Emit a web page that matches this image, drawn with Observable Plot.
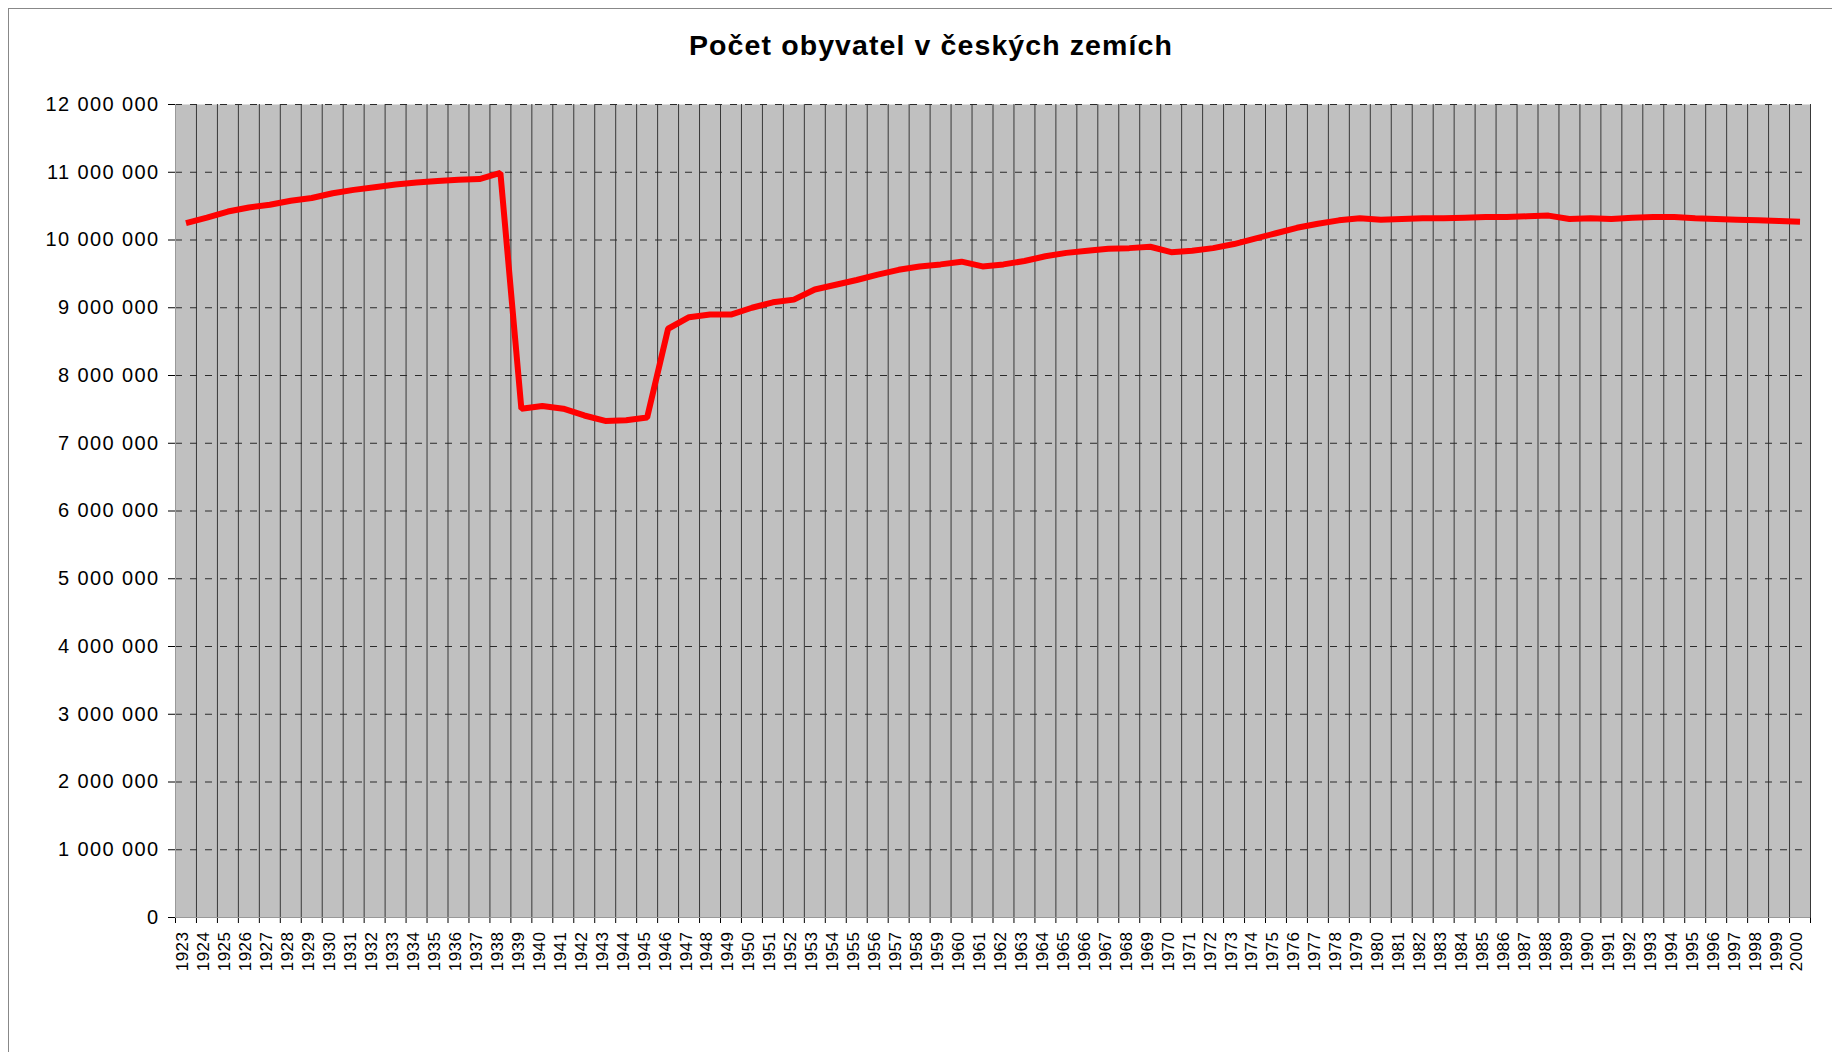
<!DOCTYPE html>
<html><head><meta charset="utf-8">
<script src="https://cdn.jsdelivr.net/npm/d3@7"></script>
<script src="https://cdn.jsdelivr.net/npm/@observablehq/plot@0.6"></script>
<style>
html,body{margin:0;padding:0;background:#fff;}
#wrap{position:relative;width:1832px;height:1052px;overflow:hidden;font-family:"Liberation Sans",Arial,sans-serif;}
#border{position:absolute;left:8px;top:8px;right:-10px;bottom:-10px;border-left:1px solid #888;border-top:1px solid #888;}
#title{position:absolute;left:0;width:1862px;top:29px;text-align:center;font-size:28.5px;font-weight:bold;line-height:32px;letter-spacing:1.1px;color:#000;}
#chart{position:absolute;left:0;top:70px;}
</style></head>
<body><div id="wrap"><div id="border"></div><div id="title">Počet obyvatel v českých zemích</div><div id="chart"></div></div>
<script>
const years = [1923,1924,1925,1926,1927,1928,1929,1930,1931,1932,1933,1934,1935,1936,1937,1938,1939,1940,1941,1942,1943,1944,1945,1946,1947,1948,1949,1950,1951,1952,1953,1954,1955,1956,1957,1958,1959,1960,1961,1962,1963,1964,1965,1966,1967,1968,1969,1970,1971,1972,1973,1974,1975,1976,1977,1978,1979,1980,1981,1982,1983,1984,1985,1986,1987,1988,1989,1990,1991,1992,1993,1994,1995,1996,1997,1998,1999,2000];
const population = [10250000,10330000,10420000,10480000,10520000,10580000,10620000,10690000,10740000,10780000,10820000,10850000,10870000,10890000,10900000,10990000,7510000,7550000,7510000,7410000,7330000,7340000,7380000,8690000,8860000,8900000,8900000,9000000,9080000,9120000,9270000,9340000,9410000,9490000,9560000,9610000,9640000,9680000,9610000,9640000,9690000,9760000,9810000,9840000,9870000,9880000,9900000,9820000,9840000,9880000,9940000,10020000,10100000,10180000,10240000,10290000,10320000,10300000,10310000,10320000,10320000,10330000,10340000,10340000,10350000,10360000,10310000,10320000,10310000,10330000,10340000,10340000,10320000,10310000,10300000,10290000,10280000,10270000];
const yTicks = [0,1000000,2000000,3000000,4000000,5000000,6000000,7000000,8000000,9000000,10000000,11000000,12000000];

const fmt = d => d3.format(",")(d).replace(/,/g, " ");
const data = years.map((year, i) => ({year, pop: population[i]}));
const bounds = years.map(y => y + 0.5);
const x0 = years[0] - 0.5;

const chart = Plot.plot({
  width: 1832, height: 982,
  marginLeft: 175, marginRight: 22, marginTop: 34, marginBottom: 135,
  x: {type: "linear", domain: [x0, years[years.length - 1] + 0.5], ticks: [x0, ...bounds], tickSize: 6, tickPadding: 0, tickFormat: () => "", label: null},
  y: {domain: [0, 12000000], ticks: yTicks, tickSize: 7, tickPadding: 9, tickFormat: fmt, label: null},
  style: {fontFamily: "'Liberation Sans', Arial, sans-serif", fontSize: "20px", color: "black", background: "transparent", overflow: "visible"},
  marks: [
    Plot.frame({fill: "#C0C0C0", stroke: "none"}),
    Plot.ruleX(bounds, {stroke: "#383838", strokeWidth: 1}),
    Plot.ruleY(yTicks.filter(v => v > 0), {stroke: "#2a2a2a", strokeDasharray: "7,8"}),
    Plot.ruleX([x0], {stroke: "#999"}),
    Plot.ruleY([0], {stroke: "#999"}),
    Plot.text(years, {x: d => d, y: () => 0, text: d => String(d), rotate: -90, textAnchor: "end", dy: 14, dx: -3, fontSize: 17, fill: "black"}),
    Plot.line(data, {x: "year", y: "pop", stroke: "#FF0000", strokeWidth: 6, strokeLinejoin: "miter", strokeLinecap: "butt"})
  ]
});
chart.querySelectorAll("text").forEach(t => {
  if (/^\d{4}$/.test(t.textContent)) t.setAttribute("letter-spacing", "0.5");
  else t.setAttribute("letter-spacing", "1.4");
});
chart.querySelectorAll("g[aria-label='x-axis'] line").forEach(l => l.setAttribute("stroke", "#999"));
chart.querySelectorAll("g[aria-label='y-axis'] line").forEach(l => l.setAttribute("stroke", "#888"));
document.getElementById("chart").appendChild(chart);
</script>
</body></html>
